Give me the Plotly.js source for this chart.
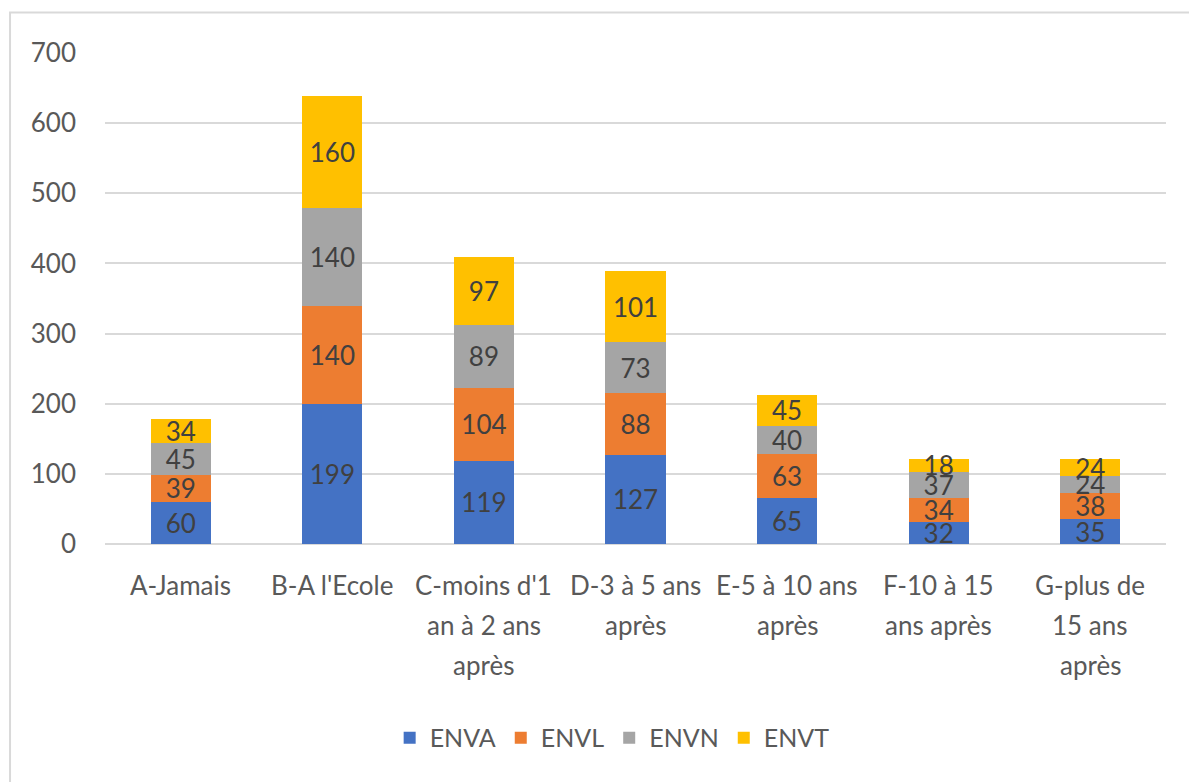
<!DOCTYPE html>
<html>
<head>
<meta charset="utf-8">
<script src="https://cdn.plot.ly/plotly-3.0.1.min.js"></script>
<style>
html,body{margin:0;padding:0;background:#fff;}
#chart{width:1189px;height:782px;}
</style>
</head>
<body>
<div id="chart"></div>
<script>
var categories = ["A-Jamais", "B-A l'Ecole", "C-moins d'1 an à 2 ans après", "D-3 à 5 ans après", "E-5 à 10 ans après", "F-10 à 15 ans après", "G-plus de 15 ans après"];
var categoryLines = [
  ["A-Jamais"],
  ["B-A l'Ecole"],
  ["C-moins d'1", "an à 2 ans", "après"],
  ["D-3 à 5 ans", "après"],
  ["E-5 à 10 ans", "après"],
  ["F-10 à 15", "ans après"],
  ["G-plus de", "15 ans", "après"]
];
var seriesNames = ["ENVA", "ENVL", "ENVN", "ENVT"];
var ENVA = [60, 199, 119, 127, 65, 32, 35];
var ENVL = [39, 140, 104, 88, 63, 34, 38];
var ENVN = [45, 140, 89, 73, 40, 37, 24];
var ENVT = [34, 160, 97, 101, 45, 18, 24];
var yTicks = [0, 100, 200, 300, 400, 500, 600, 700];

var colors = ["#4472C4", "#ED7D31", "#A5A5A5", "#FFC000"];
var FONT = "Lato, 'Open Sans', sans-serif";
var seriesValues = [ENVA, ENVL, ENVN, ENVT];

var traces = seriesValues.map(function (vals, i) {
  return {
    type: "bar",
    name: seriesNames[i],
    x: categories,
    y: vals,
    text: vals.map(String),
    textposition: "inside",
    insidetextanchor: "middle",
    constraintext: "none",
    textangle: 0,
    textfont: {family: FONT, size: 26, color: "#404040"},
    marker: {color: colors[i], line: {width: 0}},
    hoverinfo: "skip"
  };
});

var annotations = [];
categoryLines.forEach(function (lines, ci) {
  lines.forEach(function (ln, li) {
    annotations.push({
      xref: "x", yref: "paper",
      x: categories[ci], y: 0,
      yanchor: "middle", xanchor: "center",
      yshift: -41 - 40 * li,
      text: ln, showarrow: false,
      font: {family: FONT, size: 26, color: "#595959"}
    });
  });
});

var layout = {
  width: 1189, height: 782,
  margin: {l: 105, r: 23, t: 53, b: 238},
  paper_bgcolor: "#ffffff",
  plot_bgcolor: "#ffffff",
  barmode: "stack",
  bargap: 0.604,
  showlegend: true,
  font: {family: FONT, color: "#595959"},
  xaxis: {
    type: "category",
    showticklabels: false,
    showgrid: false,
    zeroline: false,
    showline: false,
    ticks: ""
  },
  yaxis: {
    range: [0, 700],
    tickvals: yTicks,
    ticktext: yTicks.map(String),
    showgrid: true,
    gridcolor: "#d9d9d9",
    gridwidth: 2,
    zeroline: true,
    zerolinecolor: "#d9d9d9",
    zerolinewidth: 2,
    showline: false,
    ticks: "",
    ticklabelstandoff: 28,
    tickfont: {family: FONT, size: 26, color: "#595959"}
  },
  legend: {
    orientation: "h",
    x: 0.478, xanchor: "center",
    y: -0.395, yanchor: "middle",
    font: {family: FONT, size: 25, color: "#595959"},
    traceorder: "normal",
    itemclick: false
  },
  annotations: annotations,
  shapes: [{
    type: "rect", xref: "paper", yref: "paper",
    x0: -0.0895, x1: 1.1, y0: -0.6, y1: 1.0825,
    line: {color: "#d9d9d9", width: 2},
    fillcolor: "rgba(0,0,0,0)",
    layer: "below"
  }]
};

Plotly.newPlot("chart", traces, layout, {displayModeBar: false, staticPlot: true});
</script>
</body>
</html>
